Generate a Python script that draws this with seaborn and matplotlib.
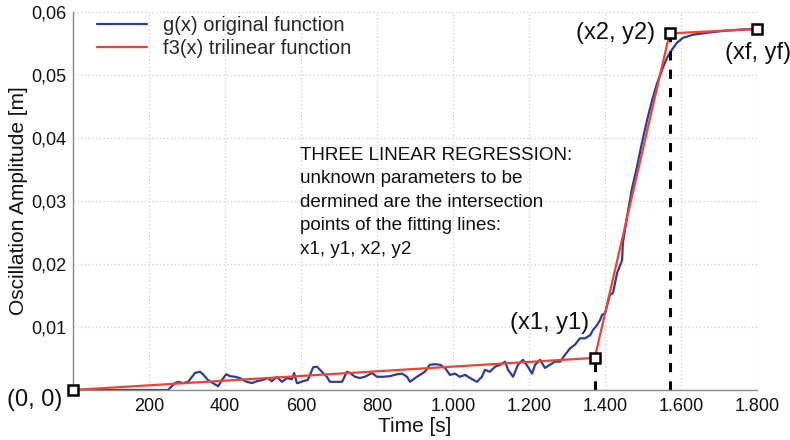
import numpy as np
import pandas as pd
import seaborn as sns
import matplotlib
matplotlib.use("Agg")
import matplotlib.pyplot as plt
from matplotlib.ticker import FuncFormatter, FixedLocator

# ---- data ----
time_g = [0, 250, 268, 276, 290, 303, 321, 334, 342, 355, 368, 382, 392, 403, 413, 426,
          439, 457, 471, 484, 500, 513, 523, 536, 550, 563, 576, 582, 589, 592, 605, 618,
          632, 642, 655, 668, 676, 689, 708, 721, 729, 742, 755, 768, 787, 800, 816, 834,
          853, 866, 879, 887, 900, 913, 926, 939, 953, 966, 979, 992, 1005, 1018, 1032,
          1045, 1063, 1076, 1084, 1097, 1111, 1124, 1137, 1145, 1158, 1171, 1184, 1197,
          1208, 1216, 1229, 1242, 1255, 1268, 1282, 1295, 1308, 1321, 1334, 1347, 1361,
          1368, 1379, 1387, 1392, 1400, 1413, 1421, 1432, 1445, 1447, 1458, 1471, 1484,
          1497, 1511, 1524, 1537, 1550, 1563, 1576, 1589, 1605, 1632, 1668, 1711, 1755,
          1789, 1800]
g_values = [0.0, 0.0, 0.0011, 0.0013, 0.0011, 0.0013, 0.0027, 0.0029, 0.0025, 0.0016,
            0.0011, 0.0006, 0.0016, 0.0025, 0.0022, 0.0021, 0.0019, 0.0013, 0.0011, 0.0014,
            0.0016, 0.0019, 0.0014, 0.0021, 0.0013, 0.0019, 0.0017, 0.0027, 0.0011, 0.0011,
            0.0014, 0.0016, 0.0036, 0.0037, 0.0029, 0.0021, 0.0013, 0.0013, 0.0013, 0.0029,
            0.0027, 0.0021, 0.0019, 0.0021, 0.0027, 0.0021, 0.0021, 0.0022, 0.0025, 0.0026,
            0.0021, 0.0013, 0.0019, 0.0024, 0.0029, 0.0040, 0.0041, 0.0040, 0.0035, 0.0024,
            0.0026, 0.0021, 0.0024, 0.0019, 0.0013, 0.0021, 0.0032, 0.0029, 0.0037, 0.0040,
            0.0045, 0.0032, 0.0021, 0.0040, 0.0048, 0.0037, 0.0026, 0.0040, 0.0048, 0.0035,
            0.0040, 0.0045, 0.0045, 0.0056, 0.0066, 0.0072, 0.0082, 0.0082, 0.0087, 0.0095,
            0.0103, 0.0111, 0.0119, 0.0122, 0.0151, 0.0154, 0.0186, 0.0206, 0.0233, 0.0275,
            0.0320, 0.0354, 0.0392, 0.0429, 0.0460, 0.0487, 0.0508, 0.0527, 0.0540, 0.0551,
            0.0559, 0.0564, 0.0567, 0.0570, 0.0572, 0.0573, 0.0573]

knot_x = [0, 1373, 1570, 1800]
knot_y = [0.0, 0.0051, 0.0566, 0.0573]
knot_labels = ["(0, 0)", "(x1, y1)", "(x2, y2)", "(xf, yf)"]

x_ticks = [200, 400, 600, 800, 1000, 1200, 1400, 1600, 1800]
y_ticks = [0.01, 0.02, 0.03, 0.04, 0.05, 0.06]

legend_labels = ["g(x) original function", "f3(x) trilinear function"]
note = ("THREE LINEAR REGRESSION:\nunknown parameters to be\n"
        "dermined are the intersection\npoints of the fitting lines:\nx1, y1, x2, y2")

# ---- style ----
sns.set_theme(style="white")
plt.rcParams["font.family"] = ["Liberation Sans", "DejaVu Sans"]

fig = plt.figure(figsize=(7.9, 4.4), dpi=100)
ax = fig.add_axes([73 / 790, 50 / 440, 684 / 790, 378 / 440])

blue = "#2e3c9e"
red = "#f2422f"

df_g = pd.DataFrame({"t": time_g, "g": g_values})
df_f = pd.DataFrame({"t": knot_x, "f": knot_y})

sns.lineplot(data=df_g, x="t", y="g", ax=ax, color=blue, lw=1.6,
             estimator=None, sort=False, label=legend_labels[0])
sns.lineplot(data=df_f, x="t", y="f", ax=ax, color=red, lw=1.6,
             estimator=None, sort=False, label=legend_labels[1])

# dashed verticals at x1 and x2
for i in (1, 2):
    ax.plot([knot_x[i], knot_x[i]], [0, knot_y[i]], color="black", ls=(0, (3, 3)),
            lw=2.2, zorder=2)

# square markers
ax.plot(knot_x, knot_y, ls="none", marker="s", ms=7, mfc="white", mec="black",
        mew=1.8, zorder=5, clip_on=False)

offsets = [(-11, -10, "right"), (-6, 35, "right"), (-14, 0, "right"), (-32, -24, "left")]
for (xx, yy, lab, (dx, dy, ha)) in zip(knot_x, knot_y, knot_labels, offsets):
    ax.annotate(lab, (xx, yy), xytext=(dx, dy), textcoords="offset pixels",
                ha=ha, va="center", fontsize=17, color="#111111",
                annotation_clip=False)

ax.text(597, 0.0386, note, ha="left", va="top", fontsize=13.6,
        linespacing=1.5, color="#111111")

ax.set_xlim(0, 1800)
ax.set_ylim(0, 0.06)
ax.xaxis.set_major_locator(FixedLocator([0] + x_ticks))
ax.yaxis.set_major_locator(FixedLocator([0] + y_ticks))
ax.xaxis.set_major_formatter(FuncFormatter(
    lambda v, p: "" if v == 0 else f"{int(round(v)):,}".replace(",", ".")))
ax.yaxis.set_major_formatter(FuncFormatter(
    lambda v, p: "" if v == 0 else f"{v:.2f}".replace(".", ",")))
ax.tick_params(axis="both", which="major", labelsize=13, direction="in",
               length=4, width=1, color="#777777", labelcolor="#111111")
ax.tick_params(axis="x", pad=6)
ax.tick_params(axis="y", pad=5)

ax.grid(True, ls=(0, (1, 2)), color="#cfcfcf", lw=0.9)
for s in ("top", "right"):
    ax.spines[s].set_visible(False)
for s in ("left", "bottom"):
    ax.spines[s].set_color("#8a8a8a")
    ax.spines[s].set_linewidth(1.0)

ax.set_xlabel("Time [s]", fontsize=15, color="#111111", labelpad=1)
ax.set_ylabel("Oscillation Amplitude [m]", fontsize=15, color="#111111")
ax.yaxis.set_label_coords(-0.066, 0.5)

ax.legend(loc="upper left", bbox_to_anchor=(0.035, 0.99), frameon=False,
          fontsize=14.5, handlelength=2.5, handletextpad=0.8, labelspacing=0.2,
          borderpad=0, borderaxespad=0)

fig.savefig("out.png", dpi=100)
